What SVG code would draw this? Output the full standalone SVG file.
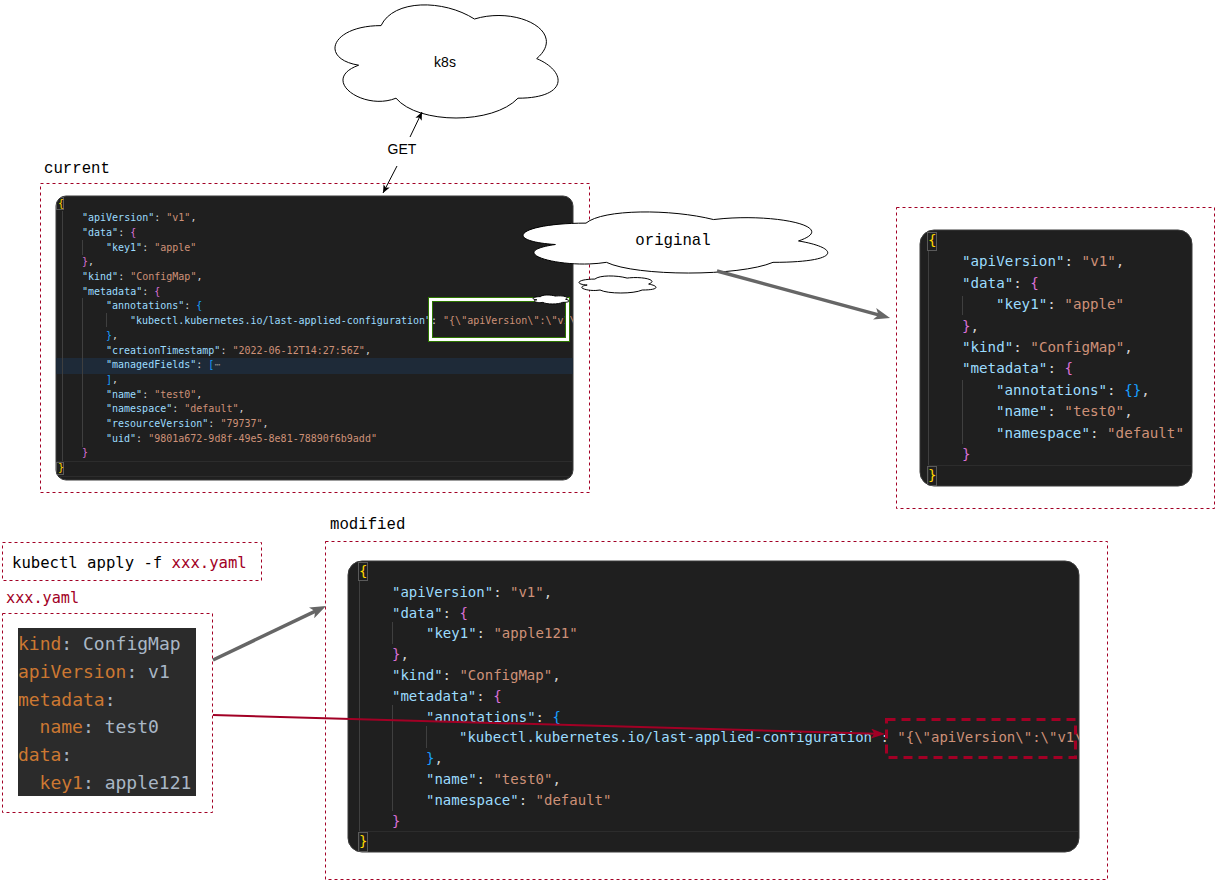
<svg xmlns="http://www.w3.org/2000/svg" width="1217" height="881" viewBox="0 0 1217 881">
<style>
.box{fill:none;stroke:#a20025;stroke-width:1;stroke-dasharray:3 3}
.panel{fill:#1f1f1f;stroke:#3a3a3a;stroke-width:1}
.code{font-family:"DejaVu Sans Mono",monospace}
.k{fill:#9cdcfe}.s{fill:#ce9178}.p{fill:#d4d4d4}.y{fill:#ffd700}.m{fill:#da70d6}.b{fill:#179fff}.g{fill:#8a8a8a}
.guide{stroke:#3f3f3f;stroke-width:1}
.bbox{fill:none;stroke:#5a5a5a;stroke-width:1}
.rowhl{fill:none;stroke:#2c2c2c;stroke-width:1}
.lbl{font-family:"Liberation Mono",monospace;font-size:15.7px;fill:#000}
.cloud{fill:#fff;stroke:#000;stroke-width:1}
.yk{fill:#cc7832}.yv{fill:#a9b7c6}
</style>
<defs>
<marker id="ahGray" viewBox="0 0 16 12" refX="6" refY="6" markerWidth="16" markerHeight="12" markerUnits="userSpaceOnUse" orient="auto"><path d="M0,0 L16,6 L0,12 L4,6 Z" fill="#666666"/></marker>
<marker id="ahRed" viewBox="0 0 14 10" refX="5" refY="5" markerWidth="14" markerHeight="10" markerUnits="userSpaceOnUse" orient="auto"><path d="M0,0 L14,5 L0,10 L3.5,5 Z" fill="#a20025"/></marker>
<marker id="ahBlack" viewBox="0 0 8 7" refX="8" refY="3.5" markerWidth="8" markerHeight="7" markerUnits="userSpaceOnUse" orient="auto"><path d="M0,0 L8,3.5 L0,7 L2,3.5 Z" fill="#000"/></marker>
<clipPath id="clipCur"><rect x="56" y="196" width="517" height="284" rx="10"/></clipPath>
<clipPath id="clipOrig"><rect x="920" y="230" width="272" height="256" rx="14"/></clipPath>
<clipPath id="clipMod"><rect x="348" y="561" width="731" height="291" rx="14"/></clipPath>
</defs>

<g id="k8s">
<path class="cloud" vector-effect="non-scaling-stroke" transform="translate(318.8,-7.4) scale(249,132)" d="M .25 .25 C .05 .25 0 .5 .16 .55 C 0 .66 .18 .9 .31 .8 C .4 1 .7 1 .8 .8 C 1 .8 1 .6 .875 .5 C 1 .3 .8 .1 .625 .2 C .5 .05 .3 .05 .25 .25 Z"/>
<text x="445" y="67" text-anchor="middle" font-family="Liberation Sans, Arial, sans-serif" font-size="14">k8s</text>
</g>

<g id="current">
<text class="lbl" x="44" y="173">current</text>
<rect class="box" x="40.5" y="183.5" width="549" height="309"/>
<rect class="panel" x="56" y="196" width="517" height="284" rx="10"/>
<g clip-path="url(#clipCur)">
<rect x="56" y="358" width="517" height="16" fill="#1e2a38"/>
<rect class="rowhl" x="56.5" y="461.5" width="517" height="15"/>
<line class="guide" x1="62.5" y1="211" x2="62.5" y2="461"/>
<line class="guide" x1="82.5" y1="240" x2="82.5" y2="255"/>
<line class="guide" x1="82.5" y1="298" x2="82.5" y2="447"/>
<line class="guide" x1="106.5" y1="313" x2="106.5" y2="327"/>
<rect class="bbox" x="56.5" y="197.5" width="7" height="12"/>
<rect class="bbox" x="56.5" y="462.5" width="7" height="12"/>
<g class="code" font-size="10">
<text x="58" y="206.5" class="y">{</text>
<text x="82" y="221.2"><tspan class="k">"apiVersion"</tspan><tspan class="p">: </tspan><tspan class="s">"v1"</tspan><tspan class="p">,</tspan></text>
<text x="82" y="235.9"><tspan class="k">"data"</tspan><tspan class="p">: </tspan><tspan class="m">{</tspan></text>
<text x="106" y="250.6"><tspan class="k">"key1"</tspan><tspan class="p">: </tspan><tspan class="s">"apple"</tspan></text>
<text x="82" y="265.3"><tspan class="m">}</tspan><tspan class="p">,</tspan></text>
<text x="82" y="280"><tspan class="k">"kind"</tspan><tspan class="p">: </tspan><tspan class="s">"ConfigMap"</tspan><tspan class="p">,</tspan></text>
<text x="82" y="294.7"><tspan class="k">"metadata"</tspan><tspan class="p">: </tspan><tspan class="m">{</tspan></text>
<text x="106" y="309.4"><tspan class="k">"annotations"</tspan><tspan class="p">: </tspan><tspan class="b">{</tspan></text>
<text x="130" y="324.1"><tspan class="k">"kubectl.kubernetes.io/last-applied-configuration"</tspan><tspan class="p">: </tspan><tspan class="s">"{\"apiVersion\":\"v1\",\"data\"</tspan></text>
<text x="106" y="338.8"><tspan class="b">}</tspan><tspan class="p">,</tspan></text>
<text x="106" y="353.5"><tspan class="k">"creationTimestamp"</tspan><tspan class="p">: </tspan><tspan class="s">"2022-06-12T14:27:56Z"</tspan><tspan class="p">,</tspan></text>
<text x="106" y="368.2"><tspan class="k">"managedFields"</tspan><tspan class="p">: </tspan><tspan class="b">[</tspan><tspan class="g">⋯</tspan></text>
<text x="106" y="382.9"><tspan class="b">]</tspan><tspan class="p">,</tspan></text>
<text x="106" y="397.6"><tspan class="k">"name"</tspan><tspan class="p">: </tspan><tspan class="s">"test0"</tspan><tspan class="p">,</tspan></text>
<text x="106" y="412.3"><tspan class="k">"namespace"</tspan><tspan class="p">: </tspan><tspan class="s">"default"</tspan><tspan class="p">,</tspan></text>
<text x="106" y="427"><tspan class="k">"resourceVersion"</tspan><tspan class="p">: </tspan><tspan class="s">"79737"</tspan><tspan class="p">,</tspan></text>
<text x="106" y="441.7"><tspan class="k">"uid"</tspan><tspan class="p">: </tspan><tspan class="s">"9801a672-9d8f-49e5-8e81-78890f6b9add"</tspan></text>
<text x="82" y="456.4" class="m">}</text>
<text x="58" y="471.1" class="y">}</text>
</g>
</g>
<rect x="430.5" y="299.5" width="137" height="40" fill="none" stroke="#2d7600" stroke-width="5"/>
<rect x="430.5" y="299.5" width="137" height="40" fill="none" stroke="#ffffff" stroke-width="3"/>
<path class="cloud" vector-effect="non-scaling-stroke" transform="translate(530.4,294) scale(40.2,10.5)" d="M .25 .25 C .05 .25 0 .5 .16 .55 C 0 .66 .18 .9 .31 .8 C .4 1 .7 1 .8 .8 C 1 .8 1 .6 .875 .5 C 1 .3 .8 .1 .625 .2 C .5 .05 .3 .05 .25 .25 Z"/>
</g>

<g id="original-cloud">
<path class="cloud" vector-effect="non-scaling-stroke" transform="translate(501,205.3) scale(340,71.3)" d="M .25 .25 C .05 .25 0 .5 .16 .55 C 0 .66 .18 .9 .31 .8 C .4 1 .7 1 .8 .8 C 1 .8 1 .6 .875 .5 C 1 .3 .8 .1 .625 .2 C .5 .05 .3 .05 .25 .25 Z"/>
<text class="lbl" x="673" y="245" text-anchor="middle">original</text>
<path class="cloud" vector-effect="non-scaling-stroke" transform="translate(573.4,274.1) scale(86,19.9)" d="M .25 .25 C .05 .25 0 .5 .16 .55 C 0 .66 .18 .9 .31 .8 C .4 1 .7 1 .8 .8 C 1 .8 1 .6 .875 .5 C 1 .3 .8 .1 .625 .2 C .5 .05 .3 .05 .25 .25 Z"/>
</g>

<g id="original">
<rect class="box" x="896.5" y="207.5" width="318" height="301"/>
<rect class="panel" x="920" y="230" width="272" height="256" rx="14"/>
<g clip-path="url(#clipOrig)">
<rect class="rowhl" x="928.5" y="465.5" width="264" height="21"/>
<line class="guide" x1="928.5" y1="250" x2="928.5" y2="465"/>
<line class="guide" x1="962.5" y1="296" x2="962.5" y2="315"/>
<line class="guide" x1="962.5" y1="380" x2="962.5" y2="444"/>
<rect class="bbox" x="927.5" y="232.5" width="9" height="18"/>
<rect class="bbox" x="927.5" y="466.5" width="9" height="19"/>
<g class="code" font-size="14.2">
<text x="928" y="245" class="y">{</text>
<text x="962" y="266.4"><tspan class="k">"apiVersion"</tspan><tspan class="p">: </tspan><tspan class="s">"v1"</tspan><tspan class="p">,</tspan></text>
<text x="962" y="287.8"><tspan class="k">"data"</tspan><tspan class="p">: </tspan><tspan class="m">{</tspan></text>
<text x="996" y="309.2"><tspan class="k">"key1"</tspan><tspan class="p">: </tspan><tspan class="s">"apple"</tspan></text>
<text x="962" y="330.6"><tspan class="m">}</tspan><tspan class="p">,</tspan></text>
<text x="962" y="352"><tspan class="k">"kind"</tspan><tspan class="p">: </tspan><tspan class="s">"ConfigMap"</tspan><tspan class="p">,</tspan></text>
<text x="962" y="373.4"><tspan class="k">"metadata"</tspan><tspan class="p">: </tspan><tspan class="m">{</tspan></text>
<text x="996" y="394.8"><tspan class="k">"annotations"</tspan><tspan class="p">: </tspan><tspan class="b">{}</tspan><tspan class="p">,</tspan></text>
<text x="996" y="416.2"><tspan class="k">"name"</tspan><tspan class="p">: </tspan><tspan class="s">"test0"</tspan><tspan class="p">,</tspan></text>
<text x="996" y="437.6"><tspan class="k">"namespace"</tspan><tspan class="p">: </tspan><tspan class="s">"default"</tspan></text>
<text x="962" y="459" class="m">}</text>
<text x="928" y="480.4" class="y">}</text>
</g>
</g>
</g>

<g id="kubectl-apply">
<rect class="box" x="2.5" y="542.5" width="259" height="38"/>
<text class="code" x="12" y="568" font-size="15.6"><tspan fill="#000">kubectl apply -f </tspan><tspan fill="#a20025">xxx.yaml</tspan></text>
</g>

<g id="xxx-yaml">
<text class="code" x="6" y="603" font-size="15.2" fill="#a20025">xxx.yaml</text>
<rect class="box" x="2.5" y="613.5" width="210" height="199"/>
<rect x="18" y="628" width="178" height="168" fill="#2b2b2b"/>
<g class="code" font-size="18">
<text x="18" y="650"><tspan class="yk">kind</tspan><tspan class="yv">: ConfigMap</tspan></text>
<text x="18" y="677.8"><tspan class="yk">apiVersion</tspan><tspan class="yv">: v1</tspan></text>
<text x="18" y="705.6"><tspan class="yk">metadata</tspan><tspan class="yv">:</tspan></text>
<text x="39.6" y="733.4"><tspan class="yk">name</tspan><tspan class="yv">: test0</tspan></text>
<text x="18" y="761.2"><tspan class="yk">data</tspan><tspan class="yv">:</tspan></text>
<text x="39.6" y="789"><tspan class="yk">key1</tspan><tspan class="yv">: apple121</tspan></text>
</g>
</g>

<g id="modified">
<text class="lbl" x="330" y="529">modified</text>
<rect class="box" x="325.5" y="541.5" width="782" height="338"/>
<rect class="panel" x="348" y="561" width="731" height="291" rx="14"/>
<g clip-path="url(#clipMod)">
<rect class="rowhl" x="359.5" y="831.5" width="720" height="21"/>
<line class="guide" x1="359.5" y1="581" x2="359.5" y2="831"/>
<line class="guide" x1="392.5" y1="622" x2="392.5" y2="644"/>
<line class="guide" x1="392.5" y1="705" x2="392.5" y2="811"/>
<line class="guide" x1="426.5" y1="726" x2="426.5" y2="748"/>
<rect class="bbox" x="358.5" y="562.5" width="9" height="18"/>
<rect class="bbox" x="358.5" y="832.5" width="9" height="19"/>
<g class="code" font-size="14">
<text x="359" y="576" class="y">{</text>
<text x="392" y="596.8"><tspan class="k">"apiVersion"</tspan><tspan class="p">: </tspan><tspan class="s">"v1"</tspan><tspan class="p">,</tspan></text>
<text x="392" y="617.6"><tspan class="k">"data"</tspan><tspan class="p">: </tspan><tspan class="m">{</tspan></text>
<text x="426" y="638.4"><tspan class="k">"key1"</tspan><tspan class="p">: </tspan><tspan class="s">"apple121"</tspan></text>
<text x="392" y="659.2"><tspan class="m">}</tspan><tspan class="p">,</tspan></text>
<text x="392" y="680"><tspan class="k">"kind"</tspan><tspan class="p">: </tspan><tspan class="s">"ConfigMap"</tspan><tspan class="p">,</tspan></text>
<text x="392" y="700.8"><tspan class="k">"metadata"</tspan><tspan class="p">: </tspan><tspan class="m">{</tspan></text>
<text x="426" y="721.6"><tspan class="k">"annotations"</tspan><tspan class="p">: </tspan><tspan class="b">{</tspan></text>
<text x="459" y="742.4"><tspan class="k">"kubectl.kubernetes.io/last-applied-configuration"</tspan><tspan class="p">: </tspan><tspan class="s">"{\"apiVersion\":\"v1\",\"data\"</tspan></text>
<text x="426" y="763.2"><tspan class="b">}</tspan><tspan class="p">,</tspan></text>
<text x="426" y="784"><tspan class="k">"name"</tspan><tspan class="p">: </tspan><tspan class="s">"test0"</tspan><tspan class="p">,</tspan></text>
<text x="426" y="804.8"><tspan class="k">"namespace"</tspan><tspan class="p">: </tspan><tspan class="s">"default"</tspan></text>
<text x="392" y="825.6" class="m">}</text>
<text x="359" y="846.4" class="y">}</text>
</g>
</g>
<rect x="886.5" y="719.5" width="189" height="38" fill="none" stroke="#a20025" stroke-width="3" stroke-dasharray="9 6"/>
</g>

<g id="connectors">
<line x1="410" y1="137" x2="422" y2="112" stroke="#000" stroke-width="1" marker-end="url(#ahBlack)"/>
<line x1="397" y1="166" x2="383" y2="193" stroke="#000" stroke-width="1" marker-end="url(#ahBlack)"/>
<text x="402" y="154" text-anchor="middle" font-family="Liberation Sans, Arial, sans-serif" font-size="14">GET</text>
<line x1="717" y1="271" x2="880.4" y2="315.4" stroke="#666666" stroke-width="3.5" marker-end="url(#ahGray)"/>
<line x1="213" y1="660" x2="317" y2="610.3" stroke="#666666" stroke-width="3.5" marker-end="url(#ahGray)"/>
<line x1="213" y1="715" x2="876" y2="733.7" stroke="#a20025" stroke-width="2" marker-end="url(#ahRed)"/>
</g>
</svg>
